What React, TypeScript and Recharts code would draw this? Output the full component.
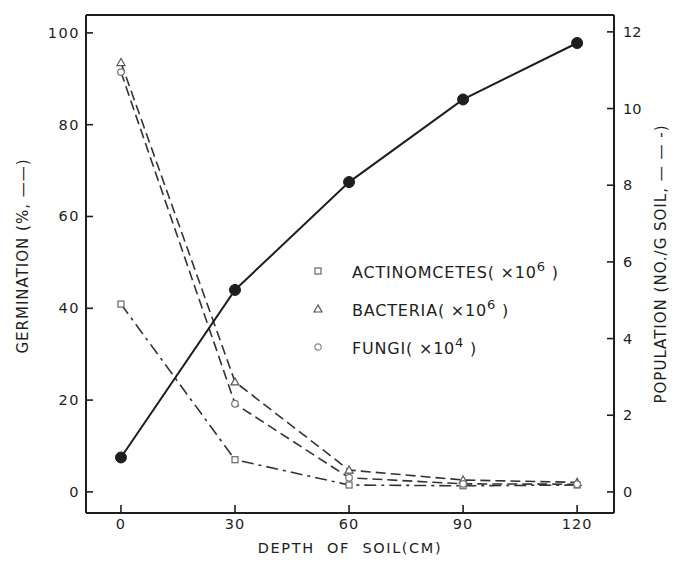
import React from 'react';
import { ComposedChart, Line, XAxis, YAxis } from 'recharts';

const depths = [0, 30, 60, 90, 120];
const germination = [7.5, 44, 67.5, 85.5, 97.8];
const actinomycetes = [4.9, 0.84, 0.18, 0.16, 0.18];
const bacteria = [11.2, 2.87, 0.57, 0.31, 0.25];
const fungi = [10.95, 2.3, 0.37, 0.21, 0.2];

const xTicks = [0, 30, 60, 90, 120];
const leftTicks = [0, 20, 40, 60, 80, 100];
const rightTicks = [0, 2, 4, 6, 8, 10, 12];

const data = depths.map((d, i) => ({
  depth: d,
  germination: germination[i],
  actinomycetes: actinomycetes[i],
  bacteria: bacteria[i],
  fungi: fungi[i],
}));

const INK = '#1e1e1e';
const FONT = '"DejaVu Sans", sans-serif';

const LeftTick = (props: any) => {
  const { x, y, payload } = props;
  return (
    <g>
      <line x1={x + 6} x2={x + 13} y1={y} y2={y} stroke={INK} strokeWidth={1.6} />
      <text x={x} y={y} dy={5} textAnchor="end" fontFamily={FONT} fontSize={14.5} letterSpacing={1.5} fill={INK}>
        {payload.value}
      </text>
    </g>
  );
};

const RightTick = (props: any) => {
  const { x, y, payload } = props;
  return (
    <g>
      <line x1={x - 9} x2={x - 16} y1={y} y2={y} stroke={INK} strokeWidth={1.6} />
      <text x={x} y={y} dy={5} textAnchor="start" fontFamily={FONT} fontSize={14.5} fill={INK}>
        {payload.value}
      </text>
    </g>
  );
};

const BottomTick = (props: any) => {
  const { x, y, payload } = props;
  return (
    <g>
      <line x1={x} x2={x} y1={y - 6} y2={y - 14} stroke={INK} strokeWidth={1.6} />
      <text x={x} y={y} dy={10} textAnchor="middle" fontFamily={FONT} fontSize={14.5} letterSpacing={1} fill={INK}>
        {payload.value}
      </text>
    </g>
  );
};

const GermDot = (props: any) => {
  const { cx, cy } = props;
  if (cx == null || cy == null) return null;
  return <circle cx={cx} cy={cy} r={5.5} fill={INK} stroke={INK} />;
};

const SquareDot = (props: any) => {
  const { cx, cy } = props;
  if (cx == null || cy == null) return null;
  return <rect x={cx - 3} y={cy - 3} width={6} height={6} fill="#fff" stroke="#666" strokeWidth={1.2} />;
};

const TriDot = (props: any) => {
  const { cx, cy } = props;
  if (cx == null || cy == null) return null;
  return <polygon points={`${cx},${cy - 4} ${cx - 4},${cy + 3} ${cx + 4},${cy + 3}`} fill="#fff" stroke="#555" strokeWidth={1.2} />;
};

const CircDot = (props: any) => {
  const { cx, cy } = props;
  if (cx == null || cy == null) return null;
  return <circle cx={cx} cy={cy} r={3.3} fill="#fff" stroke="#777" strokeWidth={1.2} />;
};

const LeftLabel = (props: any) => {
  const { viewBox } = props;
  const cx = viewBox.x + 23;
  const cy = viewBox.y + viewBox.height / 2 - 8;
  return (
    <text x={cx} y={cy} transform={`rotate(-90 ${cx} ${cy})`} textAnchor="middle" dominantBaseline="central" fontFamily={FONT} fontSize={15} letterSpacing={1} fill={INK}>
      GERMINATION (%, ——)
    </text>
  );
};

const RightLabel = (props: any) => {
  const { viewBox } = props;
  const cx = viewBox.x + 47;
  const cy = viewBox.y + viewBox.height / 2;
  return (
    <text x={cx} y={cy} transform={`rotate(-90 ${cx} ${cy})`} textAnchor="middle" dominantBaseline="central" fontFamily={FONT} fontSize={15} letterSpacing={1} fill={INK}>
      POPULATION (NO./G SOIL, — — -)
    </text>
  );
};

const BottomLabel = (props: any) => {
  const { viewBox } = props;
  const cx = viewBox.x + viewBox.width / 2;
  const cy = viewBox.y + 35;
  return (
    <text x={cx} y={cy} textAnchor="middle" dominantBaseline="central" fontFamily={FONT} fontSize={14.5} letterSpacing={1.6} fill={INK} style={{ whiteSpace: 'pre' }}>
      {'DEPTH  OF  SOIL(CM)'}
    </text>
  );
};

const legendItems = [
  { name: 'ACTINOMCETES', exp: '6', marker: 'square' },
  { name: 'BACTERIA', exp: '6', marker: 'tri' },
  { name: 'FUNGI', exp: '4', marker: 'circ' },
];

const LegendBox = () => (
  <div style={{ position: 'absolute', left: 310, top: 252, fontFamily: FONT, fontSize: 16, color: INK, letterSpacing: 0.8, lineHeight: 1 }}>
    {legendItems.map((it) => (
      <div key={it.name} style={{ display: 'flex', alignItems: 'center', height: 38 }}>
        <svg width={16} height={14} style={{ marginRight: 26 }}>
          {it.marker === 'square' && <rect x={5} y={4} width={6} height={6} fill="#fff" stroke="#666" strokeWidth={1.2} />}
          {it.marker === 'tri' && <polygon points="8,3 4,10 12,10" fill="#fff" stroke="#555" strokeWidth={1.2} />}
          {it.marker === 'circ' && <circle cx={8} cy={7} r={3.2} fill="#fff" stroke="#888" strokeWidth={1.2} />}
        </svg>
        <span>
          {it.name}( ×10<sup style={{ fontSize: 13, verticalAlign: '0.55em' }}>{it.exp}</sup> )
        </span>
      </div>
    ))}
  </div>
);

export default function App() {
  return (
    <div style={{ position: 'absolute', left: 0, top: 0, width: 673, height: 570, background: '#fff' }}>
      <ComposedChart width={673} height={570} data={data} margin={{ top: 14, right: 0, bottom: 0, left: 0 }}>
        <XAxis
          xAxisId="main"
          dataKey="depth"
          type="number"
          domain={[-9.2, 129.7]}
          ticks={xTicks}
          height={57}
          axisLine={{ stroke: INK, strokeWidth: 2 }}
          tickLine={false}
          tickSize={0}
          tickMargin={6}
          tick={<BottomTick />}
          label={<BottomLabel />}
          allowDataOverflow
        />
        <XAxis
          xAxisId="top"
          dataKey="depth"
          type="number"
          orientation="top"
          domain={[-9.2, 129.7]}
          height={1}
          tick={false}
          tickLine={false}
          axisLine={{ stroke: INK, strokeWidth: 2 }}
          allowDataOverflow
        />
        <YAxis
          yAxisId="left"
          orientation="left"
          type="number"
          domain={[-4.6, 103.9]}
          ticks={leftTicks}
          width={86}
          axisLine={{ stroke: INK, strokeWidth: 2 }}
          tickLine={false}
          tickSize={0}
          tickMargin={6}
          tick={<LeftTick />}
          label={<LeftLabel />}
          allowDataOverflow
        />
        <YAxis
          yAxisId="right"
          orientation="right"
          type="number"
          domain={[-0.55, 12.44]}
          ticks={rightTicks}
          width={59}
          axisLine={{ stroke: INK, strokeWidth: 2 }}
          tickLine={false}
          tickSize={0}
          tickMargin={9}
          tick={<RightTick />}
          label={<RightLabel />}
          allowDataOverflow
        />
        <Line
          xAxisId="main"
          yAxisId="right"
          dataKey="actinomycetes"
          name="ACTINOMCETES"
          stroke="#333"
          strokeWidth={1.6}
          strokeDasharray="12 5 3 5"
          dot={<SquareDot />}
          activeDot={false}
          type="linear"
          isAnimationActive={false}
        />
        <Line
          xAxisId="main"
          yAxisId="right"
          dataKey="bacteria"
          name="BACTERIA"
          stroke="#333"
          strokeWidth={1.6}
          strokeDasharray="10 5"
          dot={<TriDot />}
          activeDot={false}
          type="linear"
          isAnimationActive={false}
        />
        <Line
          xAxisId="main"
          yAxisId="right"
          dataKey="fungi"
          name="FUNGI"
          stroke="#333"
          strokeWidth={1.6}
          strokeDasharray="10 5"
          dot={<CircDot />}
          activeDot={false}
          type="linear"
          isAnimationActive={false}
        />
        <Line
          xAxisId="main"
          yAxisId="left"
          dataKey="germination"
          name="GERMINATION"
          stroke={INK}
          strokeWidth={2}
          dot={<GermDot />}
          activeDot={false}
          type="linear"
          isAnimationActive={false}
        />
      </ComposedChart>
      <LegendBox />
    </div>
  );
}
